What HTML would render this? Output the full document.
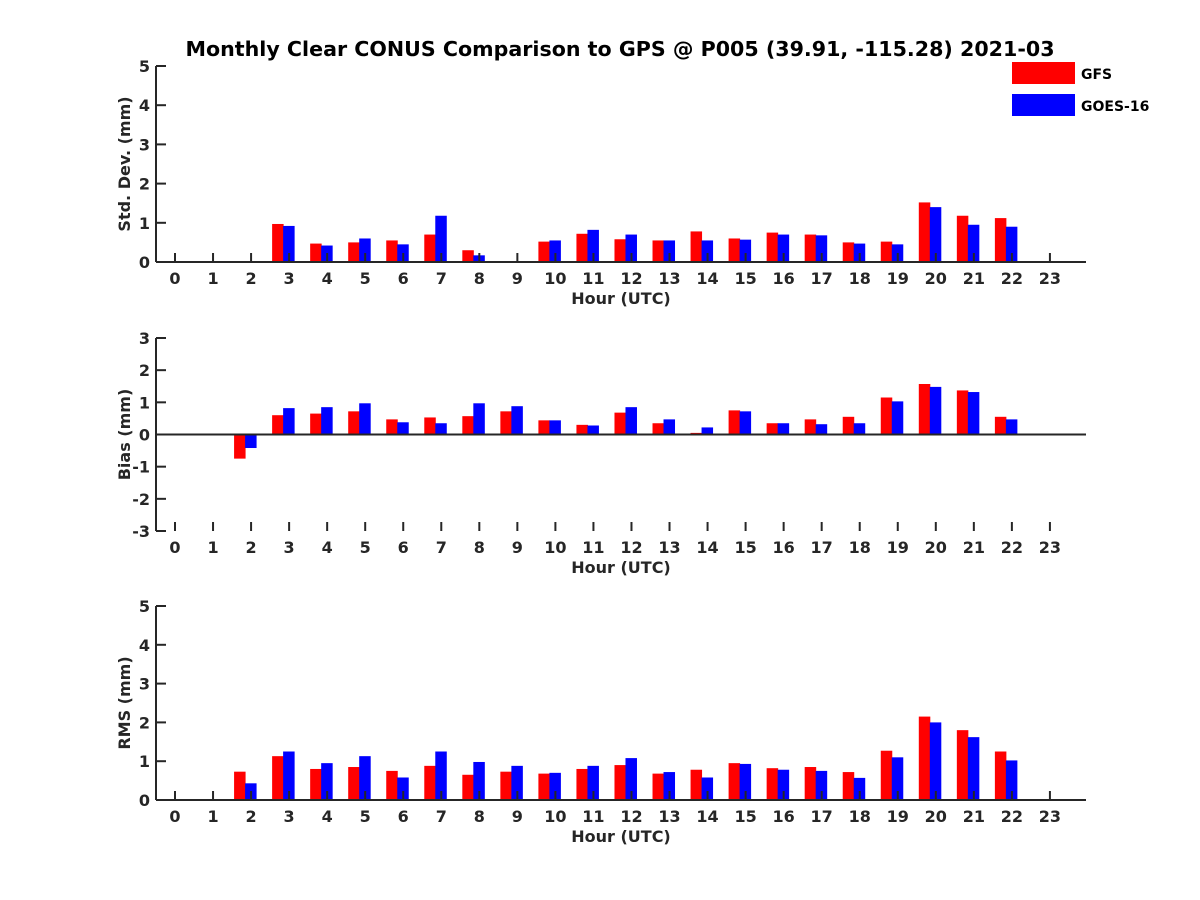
<!DOCTYPE html>
<html><head><meta charset="utf-8"><style>
body{margin:0;background:#fff}
svg{display:block;font-family:"DejaVu Sans","Liberation Sans",sans-serif;font-weight:bold}
</style></head><body>
<svg id="c" width="1200" height="900" viewBox="0 0 1200 900">
<rect width="1200" height="900" fill="#fff"/>
<text x="620" y="56" text-anchor="middle" font-size="20.6" fill="#000">Monthly Clear CONUS Comparison to GPS @ P005 (39.91, -115.28) 2021-03</text>
<g>
<rect x="1012" y="62" width="63" height="22" fill="#f00"/>
<text x="1081" y="79" font-size="14">GFS</text>
<rect x="1012" y="94" width="63" height="22" fill="#00f"/>
<text x="1081" y="111" font-size="14">GOES-16</text>
</g>
</svg>
<script>
const hours=[0,1,2,3,4,5,6,7,8,9,10,11,12,13,14,15,16,17,18,19,20,21,22,23];
const stdGFS=[null,null,null,0.97,0.47,0.5,0.55,0.7,0.3,null,0.52,0.72,0.58,0.55,0.78,0.6,0.75,0.7,0.5,0.52,1.52,1.18,1.12,null];
const stdGOES=[null,null,null,0.92,0.42,0.6,0.45,1.18,0.17,null,0.55,0.82,0.7,0.55,0.55,0.57,0.7,0.68,0.47,0.45,1.4,0.95,0.9,null];
const biasGFS=[null,null,-0.75,0.6,0.65,0.72,0.47,0.53,0.57,0.72,0.44,0.3,0.68,0.35,0.05,0.75,0.35,0.47,0.55,1.15,1.57,1.37,0.55,null];
const biasGOES=[null,null,-0.42,0.82,0.85,0.97,0.38,0.35,0.97,0.88,0.44,0.28,0.85,0.47,0.22,0.72,0.35,0.32,0.35,1.03,1.48,1.32,0.47,null];
const rmsGFS=[null,null,0.73,1.13,0.8,0.85,0.75,0.88,0.65,0.73,0.68,0.8,0.9,0.68,0.78,0.95,0.82,0.85,0.72,1.27,2.15,1.8,1.25,null];
const rmsGOES=[null,null,0.43,1.25,0.95,1.13,0.58,1.25,0.98,0.88,0.7,0.88,1.08,0.72,0.58,0.93,0.78,0.75,0.57,1.1,2.0,1.62,1.02,null];
const stdTicks=[0,1,2,3,4,5];
const biasTicks=[-3,-2,-1,0,1,2,3];
const rmsTicks=[0,1,2,3,4,5];
const svg=document.getElementById('c');
const NS='http://www.w3.org/2000/svg';
function mk(tag,attrs,parent){const e=document.createElementNS(NS,tag);for(const k in attrs)e.setAttribute(k,attrs[k]);(parent||svg).appendChild(e);return e;}
const xs=h=>175+h*38.04;
const panels=[
 {name:'std',title:'Std. Dev. (mm)',a:stdGFS,b:stdGOES,ticks:stdTicks,ymin:0,ymax:5,top:66,bot:262},
 {name:'bias',title:'Bias (mm)',a:biasGFS,b:biasGOES,ticks:biasTicks,ymin:-3,ymax:3,top:338,bot:531},
 {name:'rms',title:'RMS (mm)',a:rmsGFS,b:rmsGOES,ticks:rmsTicks,ymin:0,ymax:5,top:606,bot:800}];
panels.forEach(p=>{
 const g=mk('g',{});
 
 
 const ys=v=>p.bot-(v-p.ymin)/(p.ymax-p.ymin)*(p.bot-p.top);
 const y0=ys(0);
 hours.forEach((h,i)=>{
  [[p.a[i],'#f00',-17,'gfs'],[p.b[i],'#00f',-6,'goes']].forEach(([v,c,off,s])=>{
   if(v==null)return;
   const r=mk('rect',{x:xs(h)+off,y:Math.min(ys(v),y0),width:11.5,height:Math.abs(ys(v)-y0),fill:c},g);
   
   
  });
 });
 const ax=mk('line',{x1:156,x2:1086,y1:y0,y2:y0,stroke:'#262626','stroke-width':2},g);
 
 
 const ay=mk('line',{x1:156,x2:156,y1:p.top,y2:p.bot,stroke:'#262626','stroke-width':2},g);
 
 
 hours.forEach(h=>{
  mk('line',{x1:xs(h),x2:xs(h),y1:p.bot,y2:p.bot-9,stroke:'#262626','stroke-width':2},g);
  const t=mk('text',{x:xs(h),y:p.bot+22,'text-anchor':'middle','font-size':16,fill:'#262626'},g);
  t.textContent=h;
  
  
 });
 p.ticks.forEach(v=>{
  mk('line',{x1:156,x2:166,y1:ys(v),y2:ys(v),stroke:'#262626','stroke-width':2},g);
  const t=mk('text',{x:150,y:ys(v)+6,'text-anchor':'end','font-size':16,fill:'#262626'},g);
  t.textContent=v;
  
  
 });
 const xt=mk('text',{x:621,y:p.bot+42,'text-anchor':'middle','font-size':16,fill:'#262626'},g);
 xt.textContent='Hour (UTC)';
 
 
 const cy=(p.top+p.bot)/2;
 const yt=mk('text',{x:130,y:cy,'text-anchor':'middle','font-size':16,fill:'#262626',transform:'rotate(-90 130 '+cy+')'},g);
 yt.textContent=p.title;
 
 
});
</script>
</body></html>
